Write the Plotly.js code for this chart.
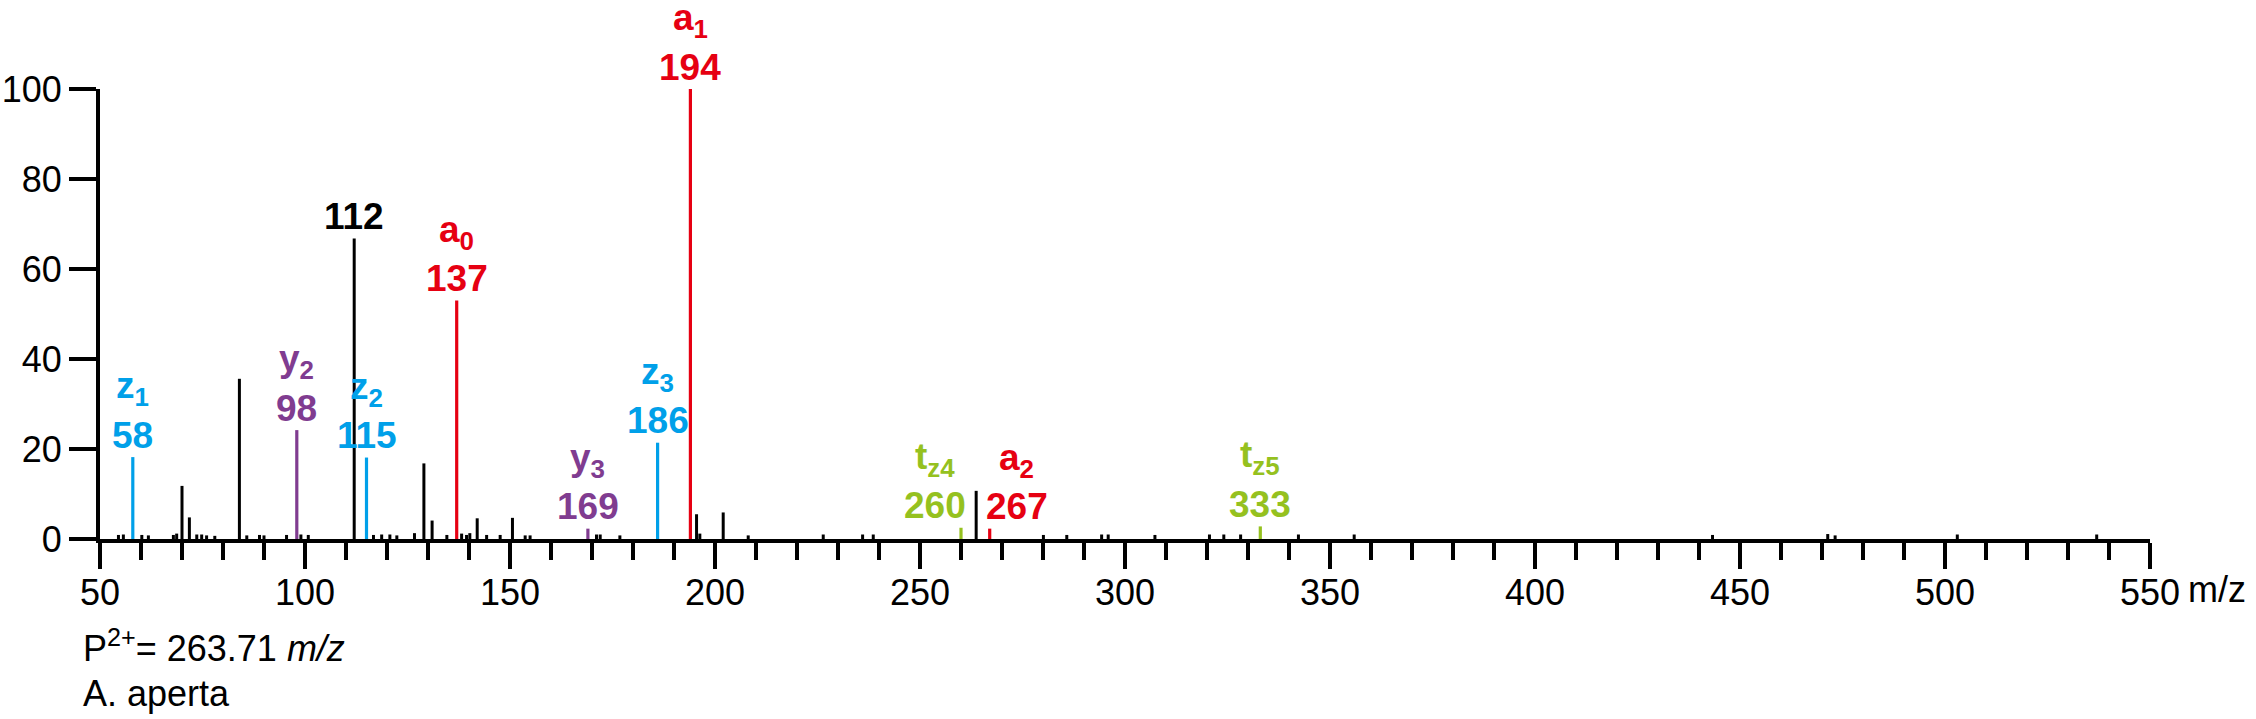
<!DOCTYPE html>
<html>
<head>
<meta charset="utf-8">
<script src="https://cdn.plot.ly/plotly-3.0.1.min.js"></script>
<style>
  html, body { margin: 0; padding: 0; background: #ffffff; }
  #chart { width: 2256px; height: 719px; }
</style>
</head>
<body>
<div id="chart"></div>
<script>
// ---------- DATA ----------
// Unassigned (black) peaks: m/z and relative intensity (%)
const blackMz = [54.5, 55.7, 60.2, 61.8, 67.9, 68.7, 70.0, 71.8, 73.6, 74.8, 76.0, 78.0,
  84.0, 85.8, 88.9, 90.0, 95.5, 99.0, 100.8, 112.0, 116.7, 118.7, 120.7, 122.4, 126.7,
  129.0, 131.0, 134.6, 138.2, 139.4, 140.2, 142.0, 144.3, 147.6, 150.6, 153.7, 154.9,
  171.1, 172.0, 176.8, 195.5, 196.3, 202.0, 208.1, 226.4, 236.0, 238.6, 263.7, 280.1,
  285.8, 294.3, 295.9, 307.3, 320.6, 324.1, 328.2, 342.3, 355.9, 443.3, 471.4, 473.2,
  503.0, 537.0];
const blackInt = [0.9, 1.0, 0.9, 0.8, 0.9, 1.2, 11.8, 4.8, 1.0, 1.0, 0.8, 0.7,
  35.6, 0.8, 0.9, 0.8, 0.9, 1.0, 0.9, 66.8, 0.9, 1.0, 1.0, 0.8, 1.3,
  16.8, 4.1, 0.9, 1.2, 0.9, 1.3, 4.6, 0.9, 0.9, 4.7, 0.8, 0.8,
  1.0, 1.0, 0.8, 5.5, 1.2, 5.9, 0.8, 1.0, 1.0, 1.0, 10.7, 0.9,
  0.9, 1.0, 1.0, 0.9, 1.0, 1.0, 1.0, 1.0, 1.0, 0.9, 1.1, 0.8,
  1.0, 1.0];
// Labelled black peak
const blackLabelMz = [112.0];
const blackLabelInt = [66.8];
const blackLabelText = ['112'];

// Assigned fragment ions
const ionMz     = [58, 98, 115, 137, 169, 186, 194, 260, 267, 333];
const ionInt    = [18.2, 24.2, 18.1, 53.0, 2.3, 21.4, 100, 2.5, 2.3, 2.8];
const ionSeries = ['z', 'y', 'z', 'a', 'y', 'z', 'a', 'tz', 'a', 'tz'];
const ionLetter = ['z', 'y', 'z', 'a', 'y', 'z', 'a', 't', 'a', 't'];
const ionSub    = ['1', '2', '2', '0', '3', '3', '1', 'z4', '2', 'z5'];
const ionLabel  = ['58', '98', '115', '137', '169', '186', '194', '260', '267', '333'];

// Axis ticks
const xTicks = [50, 100, 150, 200, 250, 300, 350, 400, 450, 500, 550];
const yTicks = [0, 20, 40, 60, 80, 100];

// Caption
const captionLine1 = 'P<sup>2+</sup>= 263.71 <i>m/z</i>';
const captionLine2 = 'A. aperta';

// ---------- STYLE ----------
const seriesColor = { a: '#e60012', z: '#00a0e9', y: '#803c90', tz: '#95c11f' };
const labelXShift = { 260: -26, 267: 27 };
const FONT = 'Liberation Sans, Arial, Helvetica, sans-serif';

function sticks(xs, ys) {
  const X = [], Y = [];
  xs.forEach((m, i) => { X.push(m, m, null); Y.push(0, ys[i], null); });
  return { X, Y };
}

const traces = [];
const b = sticks(blackMz, blackInt);
traces.push({ type: 'scatter', mode: 'lines', x: b.X, y: b.Y, cliponaxis: false,
  line: { color: '#000000', width: 3 }, hoverinfo: 'skip' });

Object.keys(seriesColor).forEach(s => {
  const xs = [], ys = [];
  ionMz.forEach((m, i) => { if (ionSeries[i] === s) { xs.push(m); ys.push(ionInt[i]); } });
  const st = sticks(xs, ys);
  traces.push({ type: 'scatter', mode: 'lines', x: st.X, y: st.Y, cliponaxis: false,
    line: { color: seriesColor[s], width: 3.2 }, hoverinfo: 'skip' });
});

const annotations = [];
ionMz.forEach((m, i) => {
  const col = seriesColor[ionSeries[i]];
  const dx = labelXShift[ionLabel[i]] || 0;
  annotations.push({ x: m, y: ionInt[i], xref: 'x', yref: 'y', showarrow: false,
    text: '<b>' + ionLabel[i] + '</b>', xanchor: 'center', yanchor: 'middle',
    xshift: dx, yshift: 22, font: { family: FONT, size: 37, color: col } });
  annotations.push({ x: m, y: ionInt[i], xref: 'x', yref: 'y', showarrow: false,
    text: '<b>' + ionLetter[i] + '<sub>' + ionSub[i] + '</sub></b>', xanchor: 'center', yanchor: 'middle',
    xshift: dx, yshift: 69, font: { family: FONT, size: 37, color: col } });
});
blackLabelMz.forEach((m, i) => {
  annotations.push({ x: m, y: blackLabelInt[i], xref: 'x', yref: 'y', showarrow: false,
    text: '<b>' + blackLabelText[i] + '</b>', xanchor: 'center', yanchor: 'middle',
    yshift: 22, font: { family: FONT, size: 37, color: '#000000' } });
});
// axis unit after last tick label
annotations.push({ x: xTicks[xTicks.length - 1], y: 0, xref: 'x', yref: 'y', showarrow: false,
  text: 'm/z', xanchor: 'left', yanchor: 'middle', xshift: 36, yshift: -50,
  font: { family: FONT, size: 36, color: '#000000' } });
// caption
annotations.push({ x: xTicks[0], y: 0, xref: 'x', yref: 'y', showarrow: false,
  text: captionLine1, xanchor: 'left', yanchor: 'middle', xshift: -19, yshift: -107,
  font: { family: FONT, size: 36, color: '#000000' } });
annotations.push({ x: xTicks[0], y: 0, xref: 'x', yref: 'y', showarrow: false,
  text: captionLine2, xanchor: 'left', yanchor: 'middle', xshift: -19, yshift: -154,
  font: { family: FONT, size: 36, color: '#000000' } });

const layout = {
  width: 2256, height: 719,
  margin: { l: 100, r: 106, t: 89, b: 180, pad: 0 },
  paper_bgcolor: '#ffffff', plot_bgcolor: '#ffffff',
  showlegend: false,
  font: { family: FONT, size: 36, color: '#000000' },
  xaxis: {
    range: [xTicks[0], xTicks[xTicks.length - 1]],
    tickmode: 'array', tickvals: xTicks, ticktext: xTicks.map(String),
    ticks: 'outside', ticklen: 26, tickwidth: 3.5, tickcolor: '#000000',
    ticklabelstandoff: -7,
    showline: true, linewidth: 4, linecolor: '#000000',
    showgrid: false, zeroline: false,
    tickfont: { family: FONT, size: 36, color: '#000000' },
    minor: { tick0: 50, dtick: 10, ticks: 'outside', ticklen: 17, tickwidth: 3.5,
      tickcolor: '#000000', showgrid: false }
  },
  yaxis: {
    range: [yTicks[0], yTicks[yTicks.length - 1]],
    tickmode: 'array', tickvals: yTicks, ticktext: yTicks.map(String),
    ticks: 'outside', ticklen: 27, tickwidth: 3.5, tickcolor: '#000000',
    showline: true, linewidth: 4, linecolor: '#000000',
    showgrid: false, zeroline: false,
    tickfont: { family: FONT, size: 36, color: '#000000' }
  },
  annotations: annotations
};

Plotly.newPlot('chart', traces, layout, { staticPlot: true, displayModeBar: false });
</script>
</body>
</html>
